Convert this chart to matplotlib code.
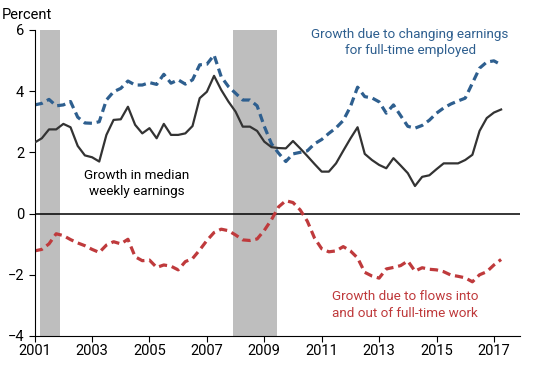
import numpy as np
import matplotlib
matplotlib.use("Agg")
import matplotlib.pyplot as plt

plt.rcParams['font.family'] = ['Roboto', 'DejaVu Sans']

# quarterly, 2001Q1 .. 2017Q2
start_year = 2001
median_growth = [2.32, 2.46, 2.75, 2.75, 2.93, 2.82, 2.21, 1.90, 1.84, 1.70,
                 2.57, 3.06, 3.08, 3.49, 2.90, 2.62, 2.79, 2.46, 2.93, 2.57,
                 2.57, 2.62, 2.86, 3.77, 3.98, 4.50, 4.04, 3.66, 3.33, 2.84,
                 2.84, 2.70, 2.35, 2.17, 2.14, 2.13, 2.37, 2.13, 1.88, 1.62,
                 1.37, 1.37, 1.64, 2.05, 2.45, 2.82, 1.95, 1.75, 1.59, 1.48,
                 1.81, 1.57, 1.32, 0.90, 1.20, 1.25, 1.45, 1.64, 1.64, 1.64,
                 1.75, 1.92, 2.70, 3.12, 3.30, 3.40]
earnings_growth = [3.55, 3.60, 3.73, 3.52, 3.55, 3.66, 3.15, 2.96, 2.95, 3.00,
                   3.71, 3.98, 4.09, 4.33, 4.20, 4.20, 4.28, 4.22, 4.55, 4.26,
                   4.37, 4.23, 4.37, 4.86, 4.88, 5.18, 4.47, 4.15, 3.93, 3.71,
                   3.71, 3.52, 2.85, 2.28, 1.97, 1.70, 1.95, 2.00, 2.05, 2.28,
                   2.42, 2.62, 2.80, 3.04, 3.49, 4.13, 3.82, 3.78, 3.65, 3.28,
                   3.55, 3.20, 2.85, 2.79, 2.88, 3.05, 3.28, 3.45, 3.58, 3.68,
                   3.77, 4.26, 4.75, 4.95, 4.99, 4.86]
flows_growth = [-1.22, -1.17, -0.99, -0.66, -0.72, -0.85, -0.96, -1.05, -1.17, -1.27,
                -1.03, -0.92, -0.99, -0.84, -1.41, -1.54, -1.52, -1.76, -1.68, -1.72,
                -1.84, -1.57, -1.47, -1.19, -0.88, -0.62, -0.51, -0.56, -0.70, -0.86,
                -0.88, -0.83, -0.55, -0.20, 0.22, 0.42, 0.36, 0.12, -0.25, -0.80,
                -1.15, -1.25, -1.22, -1.08, -1.22, -1.45, -1.92, -2.04, -2.11, -1.81,
                -1.76, -1.70, -1.55, -1.88, -1.77, -1.82, -1.84, -1.90, -2.01, -2.05,
                -2.10, -2.23, -2.00, -1.90, -1.68, -1.50]
recessions = [(2001.17, 2001.88), (2007.92, 2009.46)]

t = start_year + np.arange(len(median_growth)) / 4.0

blue = '#2e5f8f'
red = '#bf3a3c'
dark = '#333333'

fig = plt.figure(figsize=(5.5, 3.65), dpi=100)
ax = fig.add_axes([0.063, 0.0795, 0.882, 0.8385])

for a, b in recessions:
    ax.axvspan(a, b, color='#bebebe', lw=0, zorder=0)

ax.axhline(0, color='black', lw=1.1, zorder=1)
ax.plot(t, median_growth, color=dark, lw=1.6, zorder=3)
ax.plot(t, earnings_growth, color=blue, lw=2.3, ls=(0, (2.6, 1.5)), zorder=2)
ax.plot(t, flows_growth, color=red, lw=2.3, ls=(0, (2.6, 1.5)), zorder=2)

ax.set_xlim(2001, 2017.9)
ax.set_ylim(-4, 6)
ax.set_yticks([-4, -2, 0, 2, 4, 6])
ax.set_xticks(range(2001, 2018, 2))
for s in ['top', 'right']:
    ax.spines[s].set_visible(False)
ax.tick_params(labelsize=10.5, length=4, direction='out', colors='black')
ax.tick_params(axis='x', pad=2)

fig.text(0.004, 0.958, 'Percent', fontsize=10.5, va='center', ha='left')

lab_size = 9.7
ax.text(2014.08, 5.59, 'Growth due to changing earnings\nfor full-time employed',
        color=blue, fontsize=lab_size, ha='center', va='center', linespacing=1.35)
ax.text(2004.57, 0.98, 'Growth in median\nweekly earnings',
        color='black', fontsize=lab_size, ha='center', va='center', linespacing=1.35)
ax.text(2013.9, -2.99, 'Growth due to flows into\nand out of full-time work',
        color=red, fontsize=lab_size, ha='center', va='center', linespacing=1.35)

fig.savefig('out.png', dpi=100)
